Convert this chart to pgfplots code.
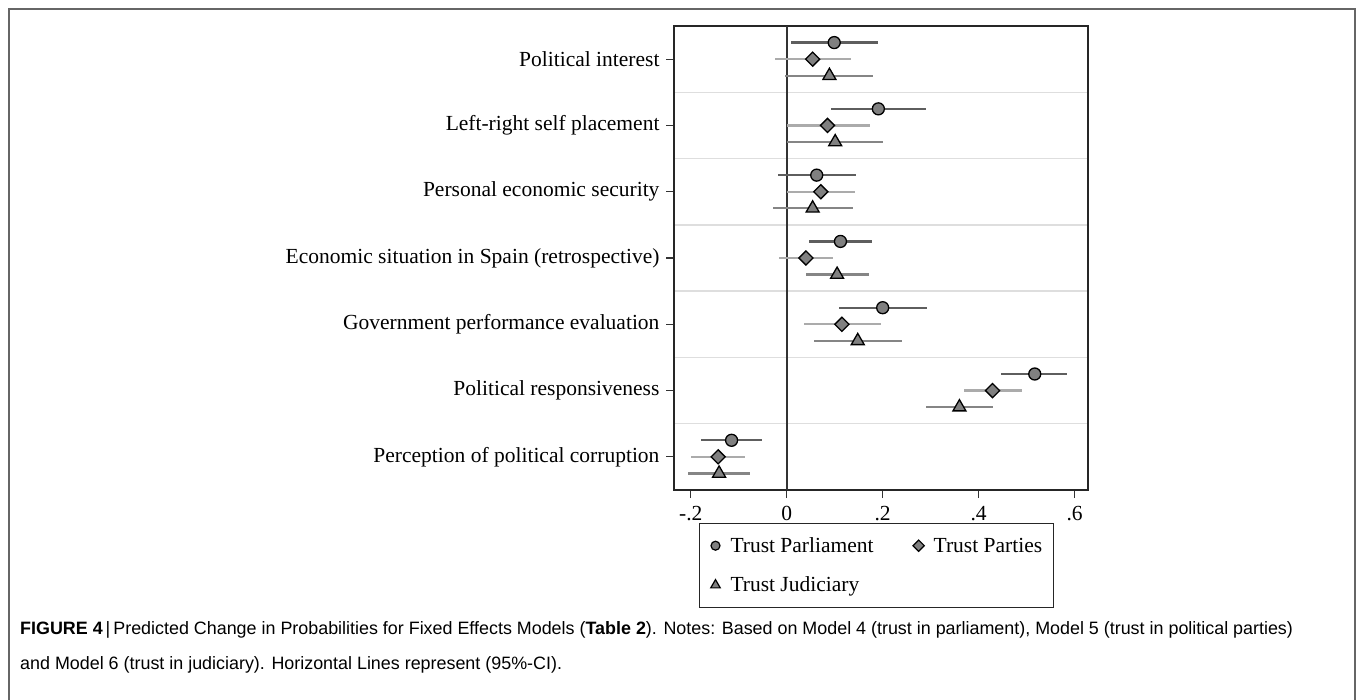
\documentclass[border=0pt]{standalone}
\usepackage{pgfplots}
\pgfplotsset{compat=1.18}
\usepackage{pgfplotstable}
\usepackage{fontspec}
\setmainfont{Liberation Serif}
\newfontfamily\capfont{Liberation Sans}

\definecolor{markgray}{HTML}{808080}
\definecolor{ciparl}{HTML}{5E5E5E}
\definecolor{ciparty}{HTML}{ABABAB}
\definecolor{cijud}{HTML}{858585}

% y: 7 = Political interest ... 1 = Perception of political corruption
\pgfplotstableread{
y     x       lo      hi
7.25  0.099   0.009   0.190
6.25  0.191   0.092   0.290
5.25  0.0625  -0.019  0.144
4.25  0.112   0.046   0.177
3.25  0.200   0.109   0.292
2.25  0.517   0.447   0.585
1.25  -0.115  -0.179  -0.052
}\parl
\pgfplotstableread{
y     x       lo      hi
7     0.054   -0.024  0.134
6     0.085   0.000   0.174
5     0.071   0.000   0.142
4     0.040   -0.017  0.096
3     0.115   0.036   0.196
2     0.429   0.369   0.491
1     -0.143  -0.199  -0.087
}\parties
\pgfplotstableread{
y     x       lo      hi
6.75  0.089   -0.003  0.180
5.75  0.101   0.000   0.201
4.75  0.054   -0.028  0.1375
3.75  0.105   0.040   0.171
2.75  0.148   0.056   0.241
1.75  0.360   0.290   0.430
0.75  -0.141  -0.206  -0.076
}\judic

\begin{document}
\begin{tikzpicture}
\path[use as bounding box] (0pt,0pt) rectangle (1357pt,-700pt);
\draw[color=black!60, line width=1.5pt] (9pt,-700pt) -- (9pt,-9pt) -- (1355pt,-9pt) -- (1355pt,-700pt);

\begin{axis}[
    at={(674pt,-490pt)}, anchor=south west,
    scale only axis, width=414pt, height=464pt,
    xmin=-0.235, xmax=0.628, ymin=0.5, ymax=7.5,
    axis line style={line width=1.5pt, color=black!85},
    tick align=outside, xtick pos=bottom, ytick pos=left,
    major tick length=8pt,
    tick style={line width=1.2pt, color=black!80},
    xtick={-0.2,0,0.2,0.4,0.6},
    xticklabels={-.2,0,.2,.4,.6},
    ytick={1,2,3,4,5,6,7},
    yticklabels={Perception of political corruption, Political responsiveness,
        Government performance evaluation, Economic situation in Spain (retrospective),
        Personal economic security, Left-right self placement, Political interest},
    minor ytick={1.5,2.5,3.5,4.5,5.5,6.5},
    minor tick length=0pt,
    yminorgrids=true,
    minor grid style={line width=1.5pt, color=black!13},
    tick label style={font=\fontsize{21.5}{25}\selectfont},
    yticklabel style={xshift=-3pt},
    xticklabel style={yshift=-5pt},
    legend columns=2,
    legend cell align=left,
    legend image code/.code={%
        \path[draw=none, fill=none] (-7pt,-7pt) rectangle (7pt,7pt);
        \draw[mark repeat=1,#1] plot coordinates {(0pt,0pt)};},
    legend style={at={(0.0604,-0.0711)}, anchor=north west,
        draw=black!85, line width=1pt,
        font=\fontsize{21.5}{25}\selectfont,
        inner xsep=9pt, inner ysep=12pt,
        row sep=19pt,
        /tikz/every odd column/.append style={column sep=6pt},
        /tikz/every even column/.append style={column sep=36pt}},
]
\draw[line width=2pt, color=black!80] (axis cs:0,0.5) -- (axis cs:0,7.5);

\addplot[forget plot, only marks, mark=*, mark size=6pt,
    mark options={fill=markgray, draw=black, line width=1.3pt},
    error bars/.cd, x dir=both, x explicit, error mark=none,
    error bar style={line width=2.2pt, color=ciparl}]
    table[x=x, y=y, x error plus expr=\thisrow{hi}-\thisrow{x},
          x error minus expr=\thisrow{x}-\thisrow{lo}] {\parl};
\addplot[forget plot, only marks, mark=square*, mark size=5pt,
    mark options={rotate=45, fill=markgray, draw=black, line width=1.3pt},
    error bars/.cd, x dir=both, x explicit, error mark=none,
    error bar style={line width=2.2pt, color=ciparty}]
    table[x=x, y=y, x error plus expr=\thisrow{hi}-\thisrow{x},
          x error minus expr=\thisrow{x}-\thisrow{lo}] {\parties};
\addplot[forget plot, only marks, mark=triangle*, mark size=7.5pt,
    mark options={fill=markgray, draw=black, line width=1.3pt},
    error bars/.cd, x dir=both, x explicit, error mark=none,
    error bar style={line width=2.2pt, color=cijud}]
    table[x=x, y=y, x error plus expr=\thisrow{hi}-\thisrow{x},
          x error minus expr=\thisrow{x}-\thisrow{lo}] {\judic};

\addlegendimage{only marks, mark=*, mark size=4.5pt,
    mark options={fill=markgray, draw=black, line width=1.2pt}}
\addlegendentry{Trust Parliament}
\addlegendimage{only marks, mark=square*, mark size=4pt,
    mark options={rotate=45, fill=markgray, draw=black, line width=1.2pt}}
\addlegendentry{Trust Parties}
\addlegendimage{only marks, mark=triangle*, mark size=5.5pt,
    mark options={fill=markgray, draw=black, line width=1.2pt}}
\addlegendentry{Trust Judiciary}
\end{axis}

\node[anchor=base west, inner sep=0pt, font=\capfont\fontsize{17.9}{20}\selectfont]
    at (20pt,-634pt) {\textbf{FIGURE 4}\,|\,Predicted Change in Probabilities for Fixed Effects Models (\textbf{Table 2}). Notes: Based on Model 4 (trust in parliament), Model 5 (trust in political parties)};
\node[anchor=base west, inner sep=0pt, font=\capfont\fontsize{17.9}{20}\selectfont]
    at (20pt,-669pt) {and Model 6 (trust in judiciary). Horizontal Lines represent (95\%-CI).};
\end{tikzpicture}
\end{document}
